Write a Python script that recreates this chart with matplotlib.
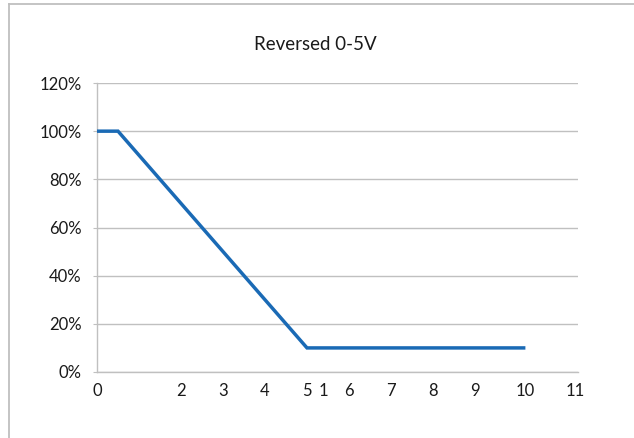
import matplotlib
matplotlib.use("Agg")
import matplotlib.pyplot as plt
from matplotlib.lines import Line2D

# Data
x_values = [0, 0.5, 5, 10.2]
y_values = [100, 100, 10, 10]
x_tick_pos = [0, 2, 3, 4, 5, 5.4, 6, 7, 8, 9, 10.2, 11.38]
x_tick_labels = ["0", "2", "3", "4", "5", "1", "6", "7", "8", "9", "10", "11"]
y_ticks = [0, 20, 40, 60, 80, 100, 120]
y_tick_labels = ["0%", "20%", "40%", "60%", "80%", "100%", "120%"]
title = "Reversed 0-5V"

plt.rcParams['font.family'] = ['Lato', 'DejaVu Sans']

W, H = 634, 438
fig = plt.figure(figsize=(W / 100, H / 100), dpi=100)
fig.patch.set_facecolor('white')

ax_left, ax_right = 97 / W, 578 / W
ax_bottom, ax_top = 1 - 372 / H, 1 - 83 / H
ax = fig.add_axes([ax_left, ax_bottom, ax_right - ax_left, ax_top - ax_bottom])

grid_color = '#c0c0c0'
ax.plot(x_values, y_values, color='#1a6ab5', linewidth=2.5, solid_capstyle='butt',
        solid_joinstyle='miter', zorder=3, clip_on=False)

ax.set_xlim(0, (578 - 97) / 42)
ax.set_ylim(0, 120)
ax.set_yticks(y_ticks)
ax.set_yticklabels(y_tick_labels)
ax.set_xticks(x_tick_pos)
ax.set_xticklabels(x_tick_labels)

ax.yaxis.grid(True, color=grid_color, linewidth=1.0)
ax.set_axisbelow(True)
for s in ['top', 'right']:
    ax.spines[s].set_visible(False)
for s in ['left', 'bottom']:
    ax.spines[s].set_color(grid_color)
    ax.spines[s].set_linewidth(1.0)

ax.tick_params(axis='y', length=3, color=grid_color, labelsize=12, pad=8,
               labelcolor='#1a1a1a')
ax.tick_params(axis='x', length=0, labelsize=12, pad=8, labelcolor='#1a1a1a')

fig.text(315 / W, 1 - 44 / H, title, ha='center', va='center', fontsize=13.5,
         color='#1a1a1a')

# Outer chart border (top and left visible)
border_color = '#bfbfbf'
fig.add_artist(Line2D([9 / W, 1], [1 - 4 / H, 1 - 4 / H], color=border_color,
                      linewidth=1.3, transform=fig.transFigure))
fig.add_artist(Line2D([9 / W, 9 / W], [0, 1 - 4 / H], color=border_color,
                      linewidth=1.3, transform=fig.transFigure))

fig.savefig("out.png", dpi=100)
